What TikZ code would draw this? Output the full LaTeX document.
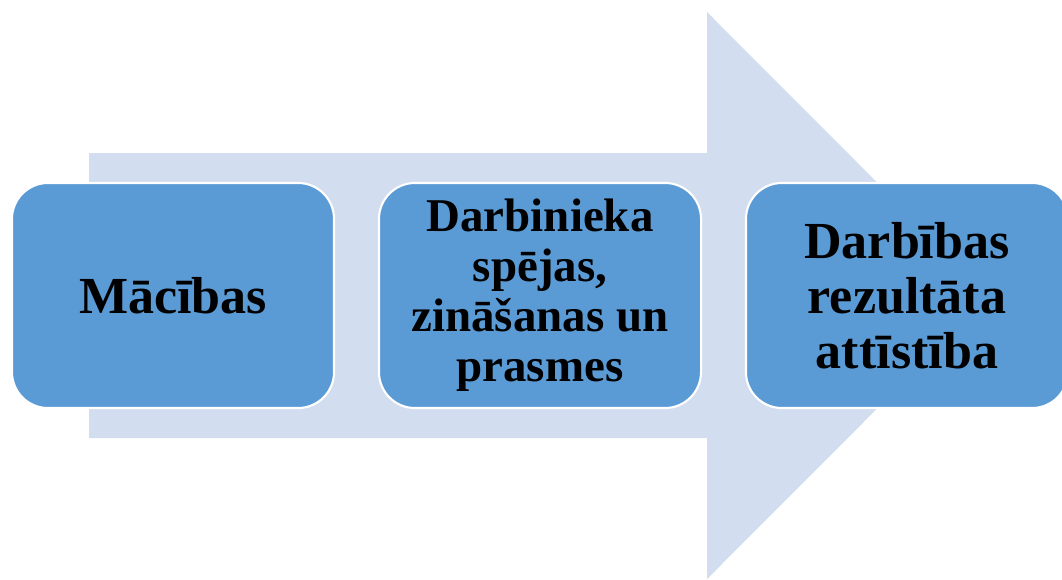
\documentclass[tikz,border=0pt]{standalone}
\usepackage{fontspec}
\setmainfont{Liberation Serif}
\definecolor{boxblue}{HTML}{5B9BD5}
\definecolor{arrowblue}{HTML}{D2DEEF}
\begin{document}
\begin{tikzpicture}[x=0.025cm,y=-0.025cm,
        box/.style={draw=white,line width=1.5pt,fill=boxblue,rounded corners=0.9cm,
            minimum width=8.05cm,minimum height=5.625cm,align=center,inner sep=0pt}]
            \useasboundingbox (0,0) rectangle (1062,579);

            \coordinate (A) at (89, 153);
            \coordinate (B) at (707, 153);
            \coordinate (C) at (707, 12);
            \coordinate (D) at (990, 295.5);
            \coordinate (E) at (707, 579);
            \coordinate (F) at (707, 438);
            \coordinate (G) at (89, 438);

            \fill[arrowblue] (A) -- (B) -- (C) -- (D) -- (E) -- (F) -- (G) -- cycle;

            \node[box,font=\fontsize{37}{36}\selectfont\bfseries] (L) at (173, 295.5) {Mācības};
            \node[box,font=\fontsize{33.4}{35.6}\selectfont\bfseries] (M) at (540, 295.5)
                {Darbinieka\\ spējas,\\ zināšanas un\\ prasmes};
            \node[box,font=\fontsize{37}{39}\selectfont\bfseries] (R) at (907, 295.5)
                {Darbības\\ rezultāta\\ attīstība};
        \end{tikzpicture}
\end{document}
